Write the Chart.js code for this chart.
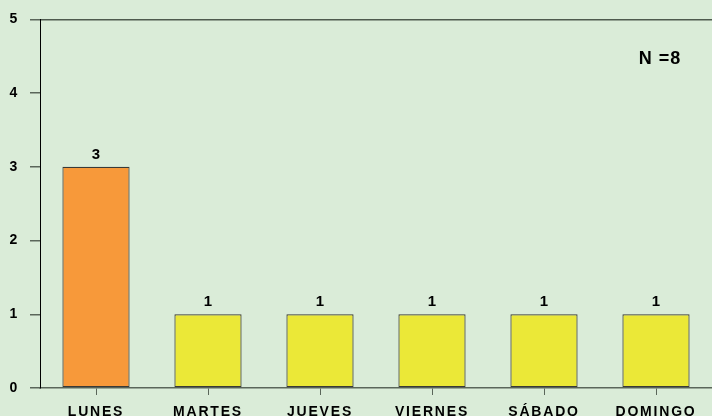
<!DOCTYPE html>
<html>
<head>
<meta charset="utf-8">
<script src="https://cdn.jsdelivr.net/npm/chart.js@4"></script>
<style>
  html, body { margin: 0; padding: 0; background: #daecd8; }
  #wrap { width: 712px; height: 416px; }
</style>
</head>
<body>
<div id="wrap"><canvas id="chart"></canvas></div>
<script>
'use strict';

const dias = ['LUNES', 'MARTES', 'JUEVES', 'VIERNES', 'SÁBADO', 'DOMINGO'];
const casos = [3, 1, 1, 1, 1, 1];
const colores = ['#f7993a', '#ebe837', '#ebe837', '#ebe837', '#ebe837', '#ebe837'];
const yTicks = [0, 1, 2, 3, 4, 5];
const totalTexto = 'N =8';

const FONT = '"Liberation Sans", Arial, sans-serif';

// spacing between letters like the original
const espaciado = {
  id: 'espaciado',
  beforeDraw(chart) {
    chart.ctx.letterSpacing = '1.8px';
  }
};

// value over each bar + the N box
const etiquetas = {
  id: 'etiquetas',
  afterDatasetsDraw(chart) {
    const ctx = chart.ctx;
    const meta = chart.getDatasetMeta(0);
    ctx.save();
    ctx.fillStyle = '#000';
    ctx.font = 'bold 15px ' + FONT;
    ctx.textAlign = 'center';
    ctx.textBaseline = 'alphabetic';
    ctx.letterSpacing = '0px';
    meta.data.forEach((bar, i) => {
      ctx.fillText(casos[i], bar.x, bar.y - 8);
    });
    ctx.font = 'bold 18px ' + FONT;
    ctx.letterSpacing = '1px';
    ctx.fillText(totalTexto, chart.chartArea.right - 52, chart.chartArea.top + 45);
    ctx.restore();
  }
};

new Chart(document.getElementById('chart'), {
  type: 'bar',
  data: {
    labels: dias,
    datasets: [{
      data: casos,
      backgroundColor: colores,
      borderColor: '#3a3a36',
      borderWidth: 1.2,
      borderSkipped: false,
      categoryPercentage: 1,
      barPercentage: 0.6
    }]
  },
  options: {
    responsive: true,
    maintainAspectRatio: false,
    animation: false,
    layout: { padding: { top: 18, left: 0, right: 0, bottom: 0 } },
    plugins: { legend: { display: false }, tooltip: { enabled: false } },
    scales: {
      x: {
        offset: true,
        afterFit(s) { s.height = 28; },
        grid: {
          offset: false,
          drawOnChartArea: false,
          drawTicks: true,
          tickLength: 7,
          tickColor: '#5a665a'
        },
        border: { color: '#5a665a', width: 1.5 },
        ticks: {
          color: '#000',
          padding: 9,
          font: { family: FONT, size: 14, weight: 'bold' }
        }
      },
      y: {
        min: 0,
        max: 5,
        afterFit(s) { s.width = 40; },
        afterBuildTicks(s) { s.ticks = yTicks.map(v => ({ value: v })); },
        grid: {
          color: c => c.tick && c.tick.value === 5 ? '#4e5a4e' : 'transparent',
          lineWidth: 1.5,
          drawTicks: true,
          tickLength: 10,
          tickColor: '#5a665a'
        },
        border: { color: '#000', width: 1 },
        ticks: {
          color: '#000',
          padding: 11,
          font: { family: FONT, size: 14, weight: 'bold' }
        }
      }
    }
  },
  plugins: [espaciado, etiquetas]
});
</script>
</body>
</html>
